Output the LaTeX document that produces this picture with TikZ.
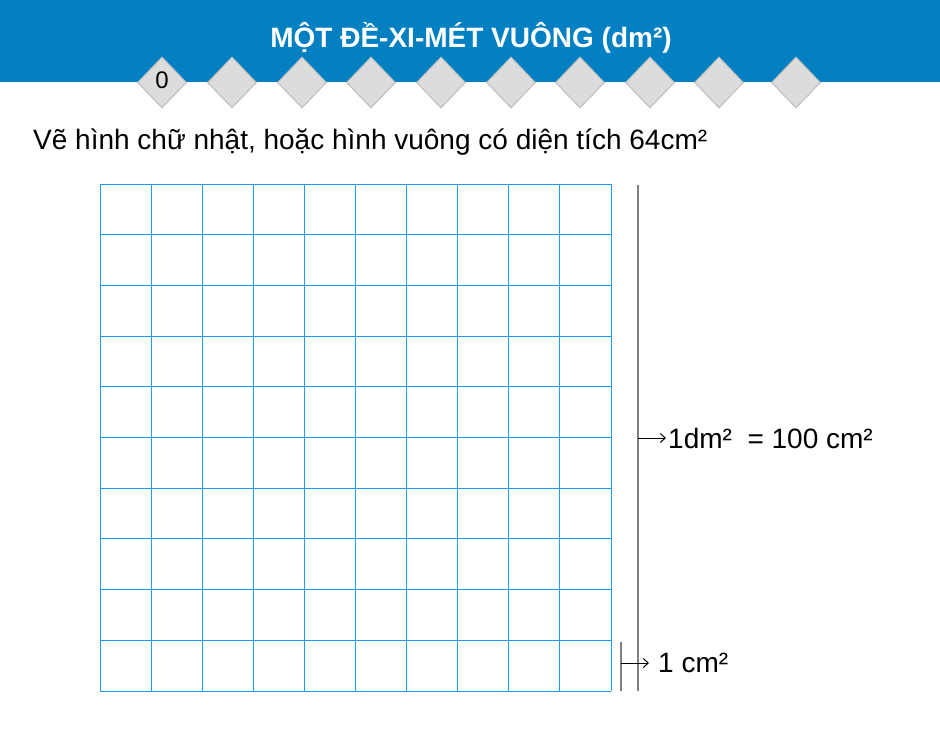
\documentclass[tikz,border=0pt]{standalone}
\usepackage{fontspec}
\setmainfont{Liberation Sans}
\usetikzlibrary{positioning, shapes.geometric, arrows.meta}

\definecolor{bandblue}{HTML}{0280C2}
\definecolor{gridblue}{HTML}{1E9BF0}
\definecolor{tilegray}{HTML}{DCDCDC}
\definecolor{tileedge}{HTML}{BDBDBD}
\definecolor{rulegray}{HTML}{7F7F7F}

\begin{document}
\begin{tikzpicture}[
    x=1pt, y=-1pt,
    tile/.style={diamond, draw=tileedge, fill=tilegray, line width=1pt, aspect=0.96, minimum width=49pt, minimum height=51pt, inner sep=0pt},
    gridline/.style={draw=gridblue, line width=0.9pt},
    ruler/.style={draw=rulegray, line width=1.2pt},
    pointer/.style={-{Straight Barb[length=5pt, width=9pt]}, line width=1pt},
    caption/.style={font=\fontsize{28}{32}\selectfont, inner sep=0pt, anchor=west}
]
\useasboundingbox (0,0) rectangle (940,752);

% Header
\fill[bandblue] (0,0) rectangle (940,82);
\node[text=white, font=\bfseries\fontsize{28}{32}\selectfont] (title) at (471,38) {MỘT ĐỀ-XI-MÉT VUÔNG (dm²)};

% Tiles
\foreach \n/\x in {0/162, 1/232, 2/302, 3/371, 4/441, 5/511, 6/580, 7/650, 8/719, 9/796}
    \node[tile] (d\n) at (\x,82.5) {};
\node[font=\fontsize{24}{28}\selectfont, inner sep=0pt] (d0_label) at (162,80) {0};

% Task
\node[caption] (task) at (33,142) {Vẽ hình chữ nhật, hoặc hình vuông có diện tích 64cm²};

% Grid
\foreach \i in {0,...,10} {
    \draw[gridline] (100+51.1*\i,184) -- (100+51.1*\i,691);
    \draw[gridline] (100,184+50.7*\i) -- (611,184+50.7*\i);
}

% Rulers
\coordinate (big_top) at (638,185);
\coordinate (big_bot) at (638,691);
\coordinate (small_top) at (621,642);
\coordinate (small_bot) at (621,691);
\draw[ruler] (big_top) -- (big_bot);
\draw[ruler] (small_top) -- (small_bot);

% Labels
\coordinate (big_mid) at (638,438);
\node[caption] (dm_label) at (668,438) {1dm²\ \ = 100 cm²};
\coordinate (small_mid) at (621,663);
\node[caption] (cm_label) at (658,663) {1 cm²};

\draw[pointer] (big_mid) -- ([xshift=-2pt]dm_label.west);
\draw[pointer] (small_mid) -- ([xshift=-9pt]cm_label.west);

\end{tikzpicture}
\end{document}
